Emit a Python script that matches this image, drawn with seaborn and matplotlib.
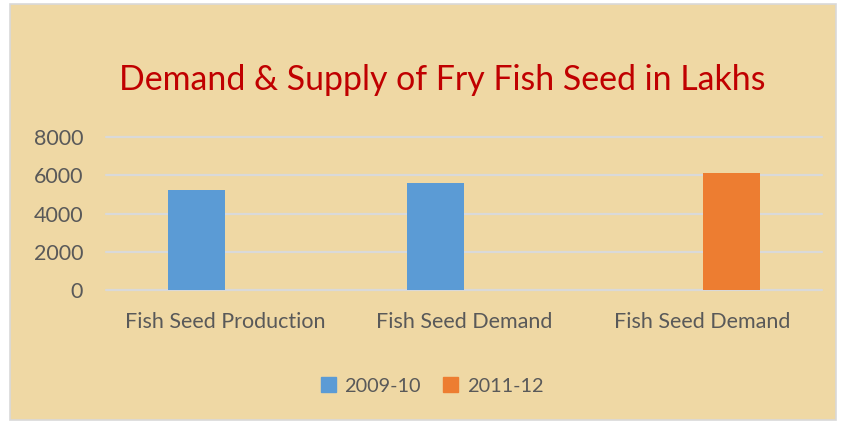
"""
Demand & Supply of Fry Fish Seed (lakhs) - grouped bar chart on a parchment panel.
"""

import matplotlib
matplotlib.use("Agg")

import matplotlib.pyplot as plt
import matplotlib.patches as mpatches
import seaborn as sns
import pandas as pd

# Data
category_keys = ["production", "demand_0910", "demand_1112"]
category_labels = ["Fish Seed Production", "Fish Seed Demand", "Fish Seed Demand"]
years = ["2009-10", "2011-12"]
values_2009_10 = [5230, 5580, None]
values_2011_12 = [None, None, 6130]

BLUE = "#5B9BD5"
ORANGE = "#ED7D31"
PANEL = "#EFD8A4"
GRID = "#D9D9D9"
TEXT = "#595959"
TITLE = "#C00000"

sns.set_theme(style="white")
plt.rcParams["font.family"] = ["Lato", "DejaVu Sans"]

rows = []
for key, a, b in zip(category_keys, values_2009_10, values_2011_12):
    rows.append({"Category": key, "Year": years[0], "Value": a})
    rows.append({"Category": key, "Year": years[1], "Value": b})
df = pd.DataFrame(rows).dropna()

fig = plt.figure(figsize=(8.44, 4.23), dpi=100)
fig.patch.set_facecolor("white")

# parchment chart area with thin grey border
panel = mpatches.Rectangle((10 / 844, 3 / 423), 826 / 844, 416 / 423,
                           transform=fig.transFigure, facecolor=PANEL,
                           edgecolor=GRID, linewidth=1.2, zorder=-5)
fig.patches.append(panel)

ax = fig.add_axes([106 / 844, 1 - 290 / 423, 716 / 844, 153 / 423])
ax.set_facecolor("none")
ax.set_zorder(2)

sns.barplot(data=df, x="Category", y="Value", hue="Year", order=category_keys,
            hue_order=years, palette=[BLUE, ORANGE], dodge=True, width=0.48,
            saturation=1, errorbar=None, linewidth=0, ax=ax, zorder=3)

ax.set_xlim(-0.5, 2.5)
ax.set_ylim(0, 8000)
ax.set_yticks([0, 2000, 4000, 6000, 8000])
ax.set_xticks(range(len(category_labels)))
ax.set_xticklabels(category_labels)
ax.yaxis.grid(True, color=GRID, linewidth=1.6, zorder=0)
for gl in ax.get_ygridlines():
    gl.set_clip_on(False)
ax.set_axisbelow(True)
for s in ax.spines.values():
    s.set_visible(False)
ax.tick_params(axis="both", length=0, colors=TEXT, labelsize=15.5)
ax.tick_params(axis="x", pad=16)
ax.tick_params(axis="y", pad=16.5)
ax.set_xlabel("")
ax.set_ylabel("")

fig.text(442 / 844, 1 - 80 / 423, "Demand & Supply of Fry Fish Seed in Lakhs",
         ha="center", va="center", color=TITLE, fontsize=24.4)

handles = [mpatches.Patch(color=BLUE, label=years[0]),
           mpatches.Patch(color=ORANGE, label=years[1])]
ax.legend_.remove()
fig.legend(handles=handles, loc="center", bbox_to_anchor=(432 / 844, 1 - 386 / 423),
           ncol=2, frameon=False, fontsize=14.3, labelcolor=TEXT,
           handlelength=0.75, handleheight=0.75, handletextpad=0.45, columnspacing=1.1)

fig.savefig("out.png", dpi=100)
